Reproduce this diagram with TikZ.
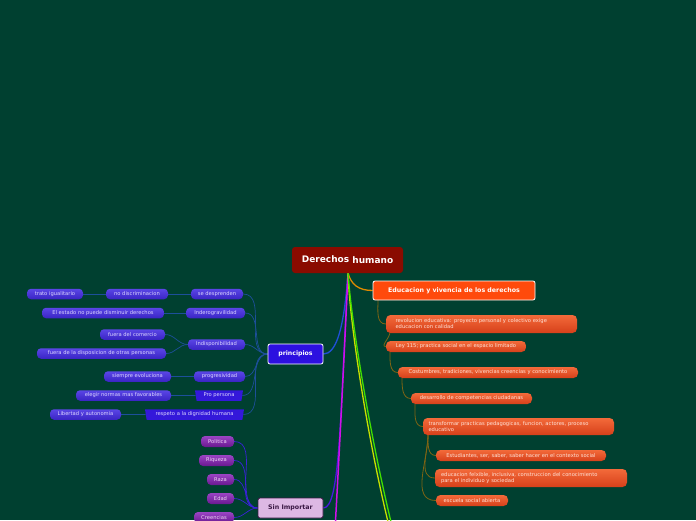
\documentclass[tikz,border=0pt]{standalone}
\usepackage{fontspec}
\setmainfont{DejaVu Sans}
\usetikzlibrary{shapes.geometric}
\definecolor{bgc}{HTML}{004030}
\definecolor{rootc}{HTML}{8A0B00}
\definecolor{evc}{HTML}{FF4A0C}
\definecolor{opt}{HTML}{F36A3A}
\definecolor{opb}{HTML}{D6401A}
\definecolor{opx}{HTML}{FFE2D8}
\definecolor{bpt}{HTML}{5A46E6}
\definecolor{bpb}{HTML}{3A24C4}
\definecolor{bpx}{HTML}{DCD6FF}
\definecolor{trc}{HTML}{3418DA}
\definecolor{ppt}{HTML}{9A44C4}
\definecolor{ppb}{HTML}{6A1890}
\definecolor{ppx}{HTML}{F0D8F6}
\definecolor{princ}{HTML}{2C10E0}
\definecolor{sinc}{HTML}{DDB8E4}
\definecolor{sinx}{HTML}{3A1844}
\definecolor{pedge}{HTML}{1D4F9A}
\definecolor{sedge}{HTML}{3A22D8}
\definecolor{oedge}{HTML}{7E6414}
\definecolor{orline}{HTML}{E08A00}
\definecolor{bline}{HTML}{2050D8}
\definecolor{vline}{HTML}{4A18E0}
\definecolor{mline}{HTML}{D010E8}
\definecolor{yline}{HTML}{C8E000}
\definecolor{gline}{HTML}{40E000}
\pgfdeclarelayer{bg}
\pgfdeclarelayer{edges}
\pgfsetlayers{bg,edges,main}
\tikzset{
  smallfont/.style={font=\fontsize{5.2}{5.9}\selectfont},
  bpill/.style={smallfont, rounded corners=4pt, top color=bpt, bottom color=bpb, text=bpx, inner sep=0pt, minimum height=10.5pt},
  btrap/.style={smallfont, trapezium, shape border rotate=180, trapezium left angle=72, trapezium right angle=72, trapezium stretches body=true, fill=trc, text=bpx, inner sep=0pt, minimum height=10.5pt},
  ppill/.style={smallfont, rounded corners=4pt, top color=ppt, bottom color=ppb, text=ppx, inner sep=0pt, minimum height=11pt},
  opill/.style={smallfont, rounded corners=4.5pt, top color=opt, bottom color=opb, text=opx, inner sep=0pt, minimum height=11pt},
  pe/.style={pedge, line width=0.7pt},
  se/.style={sedge, line width=0.7pt},
  oe/.style={oedge, line width=0.8pt},
}
\begin{document}
\begin{tikzpicture}[x=1pt,y=-1pt]
\useasboundingbox (0,0) rectangle (696,520);
\clip (0,0) rectangle (696,520);
\begin{pgfonlayer}{bg}
\fill[bgc] (0,0) rectangle (696,520);
\end{pgfonlayer}

% root and main nodes
\node[fill=rootc, rounded corners=3pt, minimum width=111pt, minimum height=26pt, inner sep=0pt, text=white, font=\fontsize{9}{10}\selectfont\bfseries] (root) at (347.5,260) {Derechos \raisebox{-1.2pt}{humano}};
\node[fill=evc, draw=white, line width=0.8pt, rounded corners=2pt, minimum width=162pt, minimum height=19pt, inner sep=0pt, text=white, font=\fontsize{6.3}{7}\selectfont\bfseries] (ev) at (454,290.5) {Educacion y vivencia de los derechos};
\node[fill=princ, draw=white, line width=0.8pt, rounded corners=2pt, minimum width=55pt, minimum height=20pt, inner sep=0pt, text=white, font=\fontsize{6.2}{7}\selectfont\bfseries] (pri) at (295.5,354) {principios};
\node[fill=sinc, draw=sinx, line width=0.8pt, rounded corners=2pt, minimum width=65pt, minimum height=20pt, inner sep=0pt, text=sinx, font=\fontsize{6.3}{7}\selectfont\bfseries] (sin) at (290.5,508) {Sin Importar};

% principios children
\node[bpill, minimum width=52pt] (sd) at (217,294) {se desprenden};
\node[bpill, minimum width=62pt] (nd) at (137,294) {no discriminacion};
\node[bpill, minimum width=56pt] (ti) at (55,294) {trato igualitario};
\node[bpill, minimum width=59pt] (ind) at (215.5,313) {Inderogravilidad};
\node[bpill, minimum width=122pt] (ed) at (103,313) {El estado no puede disminuir derechos};
\node[bpill, minimum width=57pt] (isp) at (216.5,344.5) {Indisponibilidad};
\node[bpill, minimum width=65pt] (fc) at (132.5,334.5) {fuera del comercio};
\node[bpill, minimum width=129pt] (fd) at (101.5,353.5) {fuera de la disposicion de otras personas};
\node[bpill, minimum width=51pt] (prog) at (219.5,376.5) {progresividad};
\node[bpill, minimum width=67pt] (sev) at (137.5,376.5) {siempre evoluciona};
\node[btrap, minimum width=48pt] (pp) at (219,395.5) {Pro persona};
\node[bpill, minimum width=95pt] (el) at (123.5,395.5) {elegir normas mas favorables};
\node[btrap, minimum width=99pt] (rd) at (194.5,414.5) {respeto a la dignidad humana};
\node[bpill, minimum width=71pt] (la) at (85.5,414.5) {Libertad y autonomia};

% sin importar children
\node[ppill, minimum width=33pt] (po) at (217.5,441.5) {Politica};
\node[ppill, minimum width=35pt] (ri) at (216.5,460.5) {Riqueza};
\node[ppill, minimum width=27pt] (ra) at (220.5,479.5) {Raza};
\node[ppill, minimum width=27pt] (ea) at (220.5,498.5) {Edad};
\node[ppill, minimum width=40pt] (cr) at (214,517.5) {Creencias};

% educacion children
\node[opill, minimum width=191pt, minimum height=18pt, text width=172pt, align=left] (o1) at (481.5,324) {revolucion educativa: proyecto personal y colectivo exige\\educacion con calidad};
\node[opill, minimum width=140pt] (o2) at (456,346.5) {Ley 115; practica social en el espacio limitado};
\node[opill, minimum width=180pt] (o3) at (488,372.5) {Costumbres, tradiciones, vivencias creencias y conocimiento};
\node[opill, minimum width=121pt] (o4) at (471.5,398.5) {desarrollo de competencias ciudadanas};
\node[opill, minimum width=191pt, minimum height=17pt, text width=180pt, align=left] (o5) at (518.5,426.5) {transformar practicas pedagogicas, funcion, actores, proceso\\educativo};
\node[opill, minimum width=170pt] (o6) at (521,455.5) {Estudiantes, ser, saber, saber hacer en el contexto social};
\node[opill, minimum width=192pt, minimum height=18pt, text width=180pt, align=left] (o7) at (531,478) {educacion felxible, inclusiva, construccion del conocimiento\\para el individuo y sociedad};
\node[opill, minimum width=72pt] (o8) at (472,500.5) {escuela social abierta};

% coordinates for free ends and branch points
\coordinate (rb) at (348,273);
\coordinate (mEnd) at (335,530);
\coordinate (yEnd) at (390,530);
\coordinate (gEnd) at (393,530);
\coordinate (evb) at (378,300);
\coordinate (o1b) at (390,332);
\coordinate (o2b) at (390,352);
\coordinate (o3b) at (402,378);
\coordinate (o4b) at (415,404);
\coordinate (o5b) at (428,435);

\begin{pgfonlayer}{edges}
% main branches
\draw[orline, line width=1.3pt] (rb) .. controls (351,284) and (358,290.5) .. (ev.west);
\draw[bline, line width=1.3pt] (rb) .. controls (344,330) and (336,354) .. (pri.east);
\draw[vline, line width=1.3pt] (rb) .. controls (340,420) and (340,508) .. (sin.east);
\draw[mline, line width=1.5pt] (rb) .. controls (344,360) and (340,440) .. (mEnd);
\draw[yline, line width=1.3pt] (rb) .. controls (350,330) and (370,450) .. (yEnd);
\draw[gline, line width=1.3pt] (rb) .. controls (352,330) and (373,450) .. (gEnd);

% principios edges
\foreach \n in {sd,ind,isp,prog,pp,rd}{
  \draw[pe] (\n.east) to[out=0,in=180] (pri.west);
}
\draw[pe] (nd.east) -- (sd.west);
\draw[pe] (ti.east) -- (nd.west);
\draw[pe] (ed.east) -- (ind.west);
\draw[pe] (fc.east) to[out=0,in=180] (isp.west);
\draw[pe] (fd.east) to[out=0,in=180] (isp.west);
\draw[pe] (sev.east) -- (prog.west);
\draw[pe] (el.east) -- (pp.west);
\draw[pe] (la.east) -- (rd.west);

% sin importar edges
\foreach \n in {po,ri,ra,ea,cr}{
  \draw[se] (\n.east) to[out=0,in=180] (sin.west);
}

% educacion chain
\draw[oe] (evb) to[out=-90,in=180] (o1.west);
\draw[oe] (o1b) to[out=-90,in=180] (o2.west);
\draw[oe] (o2b) to[out=-90,in=180] (o3.west);
\draw[oe] (o3b) to[out=-90,in=180] (o4.west);
\draw[oe] (o4b) to[out=-90,in=180] (o5.west);
\draw[oe] (o5b) to[out=-90,in=180] (o6.west);
\draw[oe] (o5b) to[out=-90,in=180] (o7.west);
\draw[oe] (o5b) to[out=-90,in=180] (o8.west);
\end{pgfonlayer}
\end{tikzpicture}
\end{document}
